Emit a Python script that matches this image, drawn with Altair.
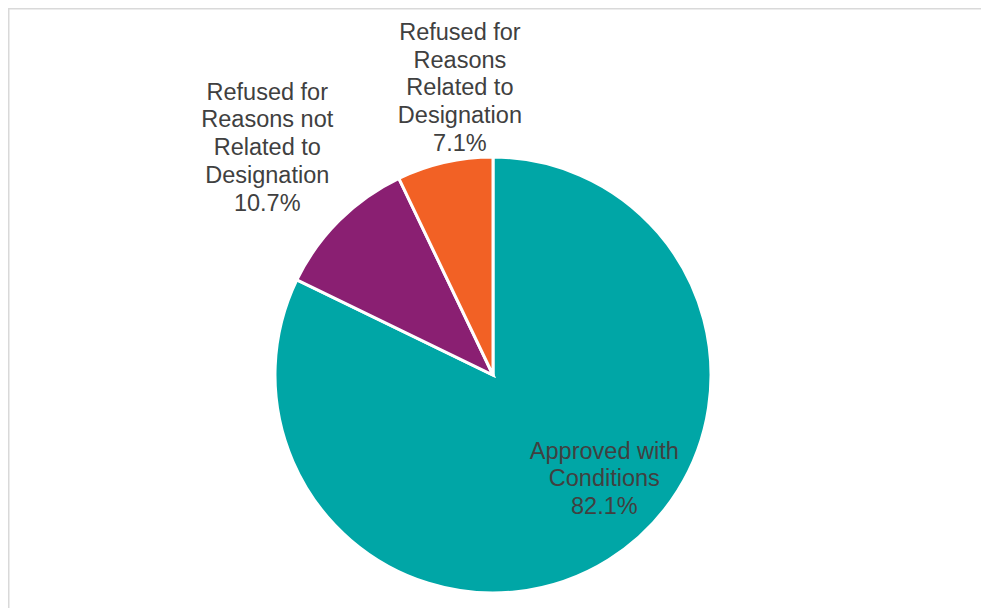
import altair as alt
import pandas as pd

# ---- data ----
categories = [
    "Approved with Conditions",
    "Refused for Reasons not Related to Designation",
    "Refused for Reasons Related to Designation",
]
label_lines = [
    ["Approved with", "Conditions"],
    ["Refused for", "Reasons not", "Related to", "Designation"],
    ["Refused for", "Reasons", "Related to", "Designation"],
]
percentages = [82.1, 10.7, 7.1]
colors = ["#00A6A6", "#8A1F72", "#F26125"]

df = pd.DataFrame({
    "category": categories,
    "value": percentages,
    "order": list(range(len(categories))),
    "label": ["\n".join(l) + "\n" + f"{v:.1f}%" for l, v in zip(label_lines, percentages)],
})

W, H = 973, 600
CX, CY = 485, 367
R = 218
LH = 27.7

base = alt.Chart(df).encode(
    theta=alt.Theta("value:Q", stack=True),
    order=alt.Order("order:Q"),
    x=alt.value(CX),
    y=alt.value(CY),
)

pie = base.mark_arc(outerRadius=R, stroke="white", strokeWidth=3).encode(
    color=alt.Color("category:N", scale=alt.Scale(domain=categories, range=colors), legend=None)
)

label_style = dict(font="Liberation Sans", fontSize=23.5, color="#404040",
                   lineBreak="\n", lineHeight=LH, align="center", baseline="middle")

# (category, radius, dx, number of lines)
label_pos = [
    (categories[0], 123, 46, 3),
    (categories[1], 320, 0, 5),
    (categories[2], 294, 32, 5),
]
texts = []
for cat, rad, dx, n in label_pos:
    texts.append(
        base.mark_text(radius=rad, dx=dx, dy=-(n - 1) / 2 * LH, **label_style).encode(
            text=alt.condition(alt.datum.category == cat, "label:N", alt.value(""))
        )
    )

bdf = pd.DataFrame({"a": [0]})
border_top = alt.Chart(bdf).mark_rule(color="#D9D9D9", strokeWidth=3).encode(
    x=alt.value(0), x2=alt.value(W), y=alt.value(0)
)
border_left = alt.Chart(bdf).mark_rule(color="#D9D9D9", strokeWidth=3).encode(
    x=alt.value(0), y=alt.value(0), y2=alt.value(H)
)

chart = alt.layer(border_top, border_left, pie, *texts).properties(
    width=W, height=H, padding=0, autosize="none", background="white"
).configure_view(stroke=None)

chart.save("out.html", embed_options={"renderer": "svg", "actions": False})
